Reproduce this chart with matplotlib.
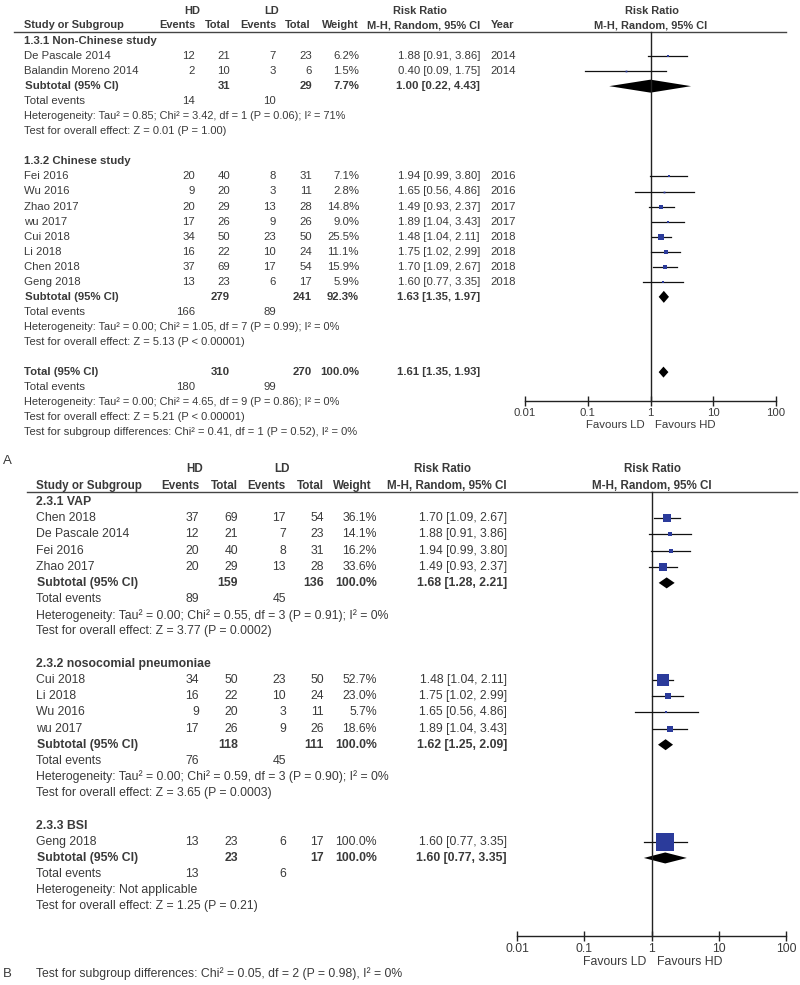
import matplotlib
matplotlib.use("Agg")
import matplotlib.pyplot as plt
from matplotlib.patches import Polygon

# ---------------- panel A data ----------------
A_study = ["De Pascale 2014", "Balandin Moreno 2014",
           "Fei 2016", "Wu 2016", "Zhao 2017", "wu 2017", "Cui 2018", "Li 2018", "Chen 2018", "Geng 2018"]
A_group = [0, 0, 1, 1, 1, 1, 1, 1, 1, 1]
A_hd_events = [12, 2, 20, 9, 20, 17, 34, 16, 37, 13]
A_hd_total = [21, 10, 40, 20, 29, 26, 50, 22, 69, 23]
A_ld_events = [7, 3, 8, 3, 13, 9, 23, 10, 17, 6]
A_ld_total = [23, 6, 31, 11, 28, 26, 50, 24, 54, 17]
A_weight = [6.2, 1.5, 7.1, 2.8, 14.8, 9.0, 25.5, 11.1, 15.9, 5.9]
A_rr = [1.88, 0.40, 1.94, 1.65, 1.49, 1.89, 1.48, 1.75, 1.70, 1.60]
A_lo = [0.91, 0.09, 0.99, 0.56, 0.93, 1.04, 1.04, 1.02, 1.09, 0.77]
A_hi = [3.86, 1.75, 3.80, 4.86, 2.37, 3.43, 2.11, 2.99, 2.67, 3.35]
A_year = [2014, 2014, 2016, 2016, 2017, 2017, 2018, 2018, 2018, 2018]

A_sub_name = ["1.3.1 Non-Chinese study", "1.3.2 Chinese study"]
A_sub_hd_total = [31, 279]
A_sub_ld_total = [29, 241]
A_sub_weight = [7.7, 92.3]
A_sub_rr = [1.00, 1.63]
A_sub_lo = [0.22, 1.35]
A_sub_hi = [4.43, 1.97]
A_sub_hd_events = [14, 166]
A_sub_ld_events = [10, 89]
A_sub_het = ["Heterogeneity: Tau² = 0.85; Chi² = 3.42, df = 1 (P = 0.06); I² = 71%",
             "Heterogeneity: Tau² = 0.00; Chi² = 1.05, df = 7 (P = 0.99); I² = 0%"]
A_sub_test = ["Test for overall effect: Z = 0.01 (P = 1.00)",
              "Test for overall effect: Z = 5.13 (P < 0.00001)"]

A_tot = dict(hd_total=310, ld_total=270, weight=100.0, rr=1.61, lo=1.35, hi=1.93,
             hd_events=180, ld_events=99)
A_tot_het = "Heterogeneity: Tau² = 0.00; Chi² = 4.65, df = 9 (P = 0.86); I² = 0%"
A_tot_test = "Test for overall effect: Z = 5.21 (P < 0.00001)"
A_diff = "Test for subgroup differences: Chi² = 0.41, df = 1 (P = 0.52), I² = 0%"

# ---------------- panel B data ----------------
B_study = ["Chen 2018", "De Pascale 2014", "Fei 2016", "Zhao 2017",
           "Cui 2018", "Li 2018", "Wu 2016", "wu 2017",
           "Geng 2018"]
B_group = [0, 0, 0, 0, 1, 1, 1, 1, 2]
B_hd_events = [37, 12, 20, 20, 34, 16, 9, 17, 13]
B_hd_total = [69, 21, 40, 29, 50, 22, 20, 26, 23]
B_ld_events = [17, 7, 8, 13, 23, 10, 3, 9, 6]
B_ld_total = [54, 23, 31, 28, 50, 24, 11, 26, 17]
B_weight = [36.1, 14.1, 16.2, 33.6, 52.7, 23.0, 5.7, 18.6, 100.0]
B_rr = [1.70, 1.88, 1.94, 1.49, 1.48, 1.75, 1.65, 1.89, 1.60]
B_lo = [1.09, 0.91, 0.99, 0.93, 1.04, 1.02, 0.56, 1.04, 0.77]
B_hi = [2.67, 3.86, 3.80, 2.37, 2.11, 2.99, 4.86, 3.43, 3.35]

B_sub_name = ["2.3.1 VAP", "2.3.2 nosocomial pneumoniae", "2.3.3 BSI"]
B_sub_hd_total = [159, 118, 23]
B_sub_ld_total = [136, 111, 17]
B_sub_weight = [100.0, 100.0, 100.0]
B_sub_rr = [1.68, 1.62, 1.60]
B_sub_lo = [1.28, 1.25, 0.77]
B_sub_hi = [2.21, 2.09, 3.35]
B_sub_hd_events = [89, 76, 13]
B_sub_ld_events = [45, 45, 6]
B_sub_het = ["Heterogeneity: Tau² = 0.00; Chi² = 0.55, df = 3 (P = 0.91); I² = 0%",
             "Heterogeneity: Tau² = 0.00; Chi² = 0.59, df = 3 (P = 0.90); I² = 0%",
             "Heterogeneity: Not applicable"]
B_sub_test = ["Test for overall effect: Z = 3.77 (P = 0.0002)",
              "Test for overall effect: Z = 3.65 (P = 0.0003)",
              "Test for overall effect: Z = 1.25 (P = 0.21)"]
B_diff = "Test for subgroup differences: Chi² = 0.05, df = 2 (P = 0.98), I² = 0%"

tick_vals = [0.01, 0.1, 1, 10, 100]
tick_labels = ["0.01", "0.1", "1", "10", "100"]

TXT = "#3a3a3a"
BLUE = "#2b3b9b"
plt.rcParams['font.family'] = ['Liberation Sans', 'DejaVu Sans']

fig = plt.figure(figsize=(8, 9.85), dpi=100)
cv = fig.add_axes([0, 0, 1, 1])
cv.set_xlim(0, 800)
cv.set_ylim(985, 0)
cv.axis("off")


def txt(x, y, s, fs, ha="left", bold=False):
    cv.text(x, y, s, fontsize=fs, ha=ha, va="center", color=TXT,
            fontweight="bold" if bold else "normal")


def forest_axes(x0, x1, axis_y, line_top, fs):
    ax = fig.add_axes([x0 / 800, 0, (x1 - x0) / 800, 1])
    ax.patch.set_alpha(0)
    ax.set_xscale("log")
    ax.set_xlim(0.01, 100)
    ax.set_ylim(985, 0)
    for s in ["top", "left", "right"]:
        ax.spines[s].set_visible(False)
    ax.spines["bottom"].set_position(("data", axis_y))
    ax.spines["bottom"].set_color("#222222")
    ax.spines["bottom"].set_linewidth(1.0)
    ax.set_xticks(tick_vals)
    ax.set_xticklabels(tick_labels)
    ax.minorticks_off()
    ax.tick_params(axis="x", direction="inout", length=7, width=1.0, colors="#222222",
                   labelsize=fs, labelcolor=TXT, pad=1.5)
    ax.set_yticks([])
    ax.plot([1, 1], [line_top, axis_y], color="#222222", lw=1.0)
    return ax


def study_mark(ax, y, rr, lo, hi, w, big):
    ax.plot([lo, hi], [y, y], color="#111111", lw=0.9)
    side = max(big * (w / 100.0) ** 0.75, 1.8)
    ax.plot([rr], [y], marker="s", ms=side * 0.72, color=BLUE, mec=BLUE, mew=0)


def diamond(ax, y, rr, lo, hi, h=5.5):
    ax.add_patch(Polygon([(lo, y), (rr, y - h), (hi, y), (rr, y + h)],
                         closed=True, color="black", lw=0))


# ================= panel A =================
fsA = 8.2
hA = 7.9
cA = dict(name=24, hde=195, hdt=230, lde=276, ldt=312, w=359, rr=480, year=490)
txt(192, 11, "HD", hA, "center", True)
txt(272, 11, "LD", hA, "center", True)
txt(420, 11, "Risk Ratio", hA, "center", True)
txt(652, 11, "Risk Ratio", hA, "center", True)
txt(24, 25.5, "Study or Subgroup", hA, "left", True)
txt(177, 25.5, "Events", hA, "center", True)
txt(218, 25.5, "Total", hA, "center", True)
txt(258, 25.5, "Events", hA, "center", True)
txt(298, 25.5, "Total", hA, "center", True)
txt(340, 25.5, "Weight", hA, "center", True)
txt(480, 25.5, "M-H, Random, 95% CI", hA, "right", True)
txt(491, 25.5, "Year", hA, "left", True)
txt(651, 25.5, "M-H, Random, 95% CI", hA, "center", True)
cv.plot([14, 786], [32, 32], color="#444444", lw=1.0)

axA = forest_axes(525, 776, 401, 32, fsA)
rowA = 15.05
yA0 = 41
k = 0
for g in range(len(A_sub_name)):
    y = yA0 + k * rowA
    txt(cA["name"], y, A_sub_name[g], fsA, bold=True)
    k += 1
    for i in range(len(A_study)):
        if A_group[i] != g:
            continue
        y = yA0 + k * rowA
        txt(cA["name"], y, A_study[i], fsA)
        txt(cA["hde"], y, str(A_hd_events[i]), fsA, "right")
        txt(cA["hdt"], y, str(A_hd_total[i]), fsA, "right")
        txt(cA["lde"], y, str(A_ld_events[i]), fsA, "right")
        txt(cA["ldt"], y, str(A_ld_total[i]), fsA, "right")
        txt(cA["w"], y, "%.1f%%" % A_weight[i], fsA, "right")
        txt(cA["rr"], y, "%.2f [%.2f, %.2f]" % (A_rr[i], A_lo[i], A_hi[i]), fsA, "right")
        txt(cA["year"], y, str(A_year[i]), fsA)
        study_mark(axA, y, A_rr[i], A_lo[i], A_hi[i], A_weight[i], 18)
        k += 1
    y = yA0 + k * rowA
    txt(cA["name"] + 1, y, "Subtotal (95% CI)", fsA, bold=True)
    txt(cA["hdt"], y, str(A_sub_hd_total[g]), fsA, "right", True)
    txt(cA["ldt"], y, str(A_sub_ld_total[g]), fsA, "right", True)
    txt(cA["w"], y, "%.1f%%" % A_sub_weight[g], fsA, "right", True)
    txt(cA["rr"], y, "%.2f [%.2f, %.2f]" % (A_sub_rr[g], A_sub_lo[g], A_sub_hi[g]), fsA, "right", True)
    diamond(axA, y, A_sub_rr[g], A_sub_lo[g], A_sub_hi[g], 6.5 if g == 0 else 6)
    k += 1
    y = yA0 + k * rowA
    txt(cA["name"], y, "Total events", fsA)
    txt(cA["hde"], y, str(A_sub_hd_events[g]), fsA, "right")
    txt(cA["lde"], y, str(A_sub_ld_events[g]), fsA, "right")
    k += 1
    txt(cA["name"], yA0 + k * rowA, A_sub_het[g], 7.9)
    k += 1
    txt(cA["name"], yA0 + k * rowA, A_sub_test[g], 8.0)
    k += 2

y = yA0 + k * rowA
txt(cA["name"], y, "Total (95% CI)", fsA, bold=True)
txt(cA["hdt"], y, str(A_tot["hd_total"]), fsA, "right", True)
txt(cA["ldt"], y, str(A_tot["ld_total"]), fsA, "right", True)
txt(cA["w"], y, "%.1f%%" % A_tot["weight"], fsA, "right", True)
txt(cA["rr"], y, "%.2f [%.2f, %.2f]" % (A_tot["rr"], A_tot["lo"], A_tot["hi"]), fsA, "right", True)
diamond(axA, y, A_tot["rr"], A_tot["lo"], A_tot["hi"], 5.5)
k += 1
y = yA0 + k * rowA
txt(cA["name"], y, "Total events", fsA)
txt(cA["hde"], y, str(A_tot["hd_events"]), fsA, "right")
txt(cA["lde"], y, str(A_tot["ld_events"]), fsA, "right")
k += 1
txt(cA["name"], yA0 + k * rowA, A_tot_het, 7.9)
k += 1
txt(cA["name"], yA0 + k * rowA, A_tot_test, 8.0)
k += 1
txt(cA["name"], yA0 + k * rowA, A_diff, 8.0)

txt(645, 425, "Favours LD", fsA, "right")
txt(655, 425, "Favours HD", fsA, "left")
txt(3, 461, "A", 9.5)

# ================= panel B =================
fsB = 8.8
hB = 8.4
cB = dict(name=36, hde=199, hdt=238, lde=286, ldt=324, w=377, rr=507)
txt(195, 469, "HD", hB, "center", True)
txt(282, 469, "LD", hB, "center", True)
txt(443, 469, "Risk Ratio", hB, "center", True)
txt(652, 469, "Risk Ratio", hB, "center", True)
txt(36, 486, "Study or Subgroup", hB, "left", True)
txt(180, 486, "Events", hB, "center", True)
txt(224, 486, "Total", hB, "center", True)
txt(266, 486, "Events", hB, "center", True)
txt(310, 486, "Total", hB, "center", True)
txt(352, 486, "Weight", hB, "center", True)
txt(447, 486, "M-H, Random, 95% CI", hB, "center", True)
txt(652, 486, "M-H, Random, 95% CI", hB, "center", True)
cv.plot([27, 797], [492, 492], color="#444444", lw=1.0)

axB = forest_axes(517, 786, 936, 492, fsB)
rowB = 16.18
yB0 = 502
k = 0
for g in range(len(B_sub_name)):
    y = yB0 + k * rowB
    txt(cB["name"], y, B_sub_name[g], fsB, bold=True)
    k += 1
    for i in range(len(B_study)):
        if B_group[i] != g:
            continue
        y = yB0 + k * rowB
        txt(cB["name"], y, B_study[i], fsB)
        txt(cB["hde"], y, str(B_hd_events[i]), fsB, "right")
        txt(cB["hdt"], y, str(B_hd_total[i]), fsB, "right")
        txt(cB["lde"], y, str(B_ld_events[i]), fsB, "right")
        txt(cB["ldt"], y, str(B_ld_total[i]), fsB, "right")
        txt(cB["w"], y, "%.1f%%" % B_weight[i], fsB, "right")
        txt(cB["rr"], y, "%.2f [%.2f, %.2f]" % (B_rr[i], B_lo[i], B_hi[i]), fsB, "right")
        study_mark(axB, y, B_rr[i], B_lo[i], B_hi[i], B_weight[i], 18)
        k += 1
    y = yB0 + k * rowB
    txt(cB["name"] + 1, y, "Subtotal (95% CI)", fsB, bold=True)
    txt(cB["hdt"], y, str(B_sub_hd_total[g]), fsB, "right", True)
    txt(cB["ldt"], y, str(B_sub_ld_total[g]), fsB, "right", True)
    txt(cB["w"], y, "%.1f%%" % B_sub_weight[g], fsB, "right", True)
    txt(cB["rr"], y, "%.2f [%.2f, %.2f]" % (B_sub_rr[g], B_sub_lo[g], B_sub_hi[g]), fsB, "right", True)
    diamond(axB, y, B_sub_rr[g], B_sub_lo[g], B_sub_hi[g], 5.5)
    k += 1
    y = yB0 + k * rowB
    txt(cB["name"], y, "Total events", fsB)
    txt(cB["hde"], y, str(B_sub_hd_events[g]), fsB, "right")
    txt(cB["lde"], y, str(B_sub_ld_events[g]), fsB, "right")
    k += 1
    txt(cB["name"], yB0 + k * rowB, B_sub_het[g], fsB)
    k += 1
    txt(cB["name"], yB0 + k * rowB, B_sub_test[g], fsB)
    k += 2

txt(646, 962, "Favours LD", fsB, "right")
txt(657, 962, "Favours HD", fsB, "left")
txt(3, 974, "B", 9.5)
txt(36, 974, B_diff, fsB)

fig.savefig("out.png", dpi=100)
